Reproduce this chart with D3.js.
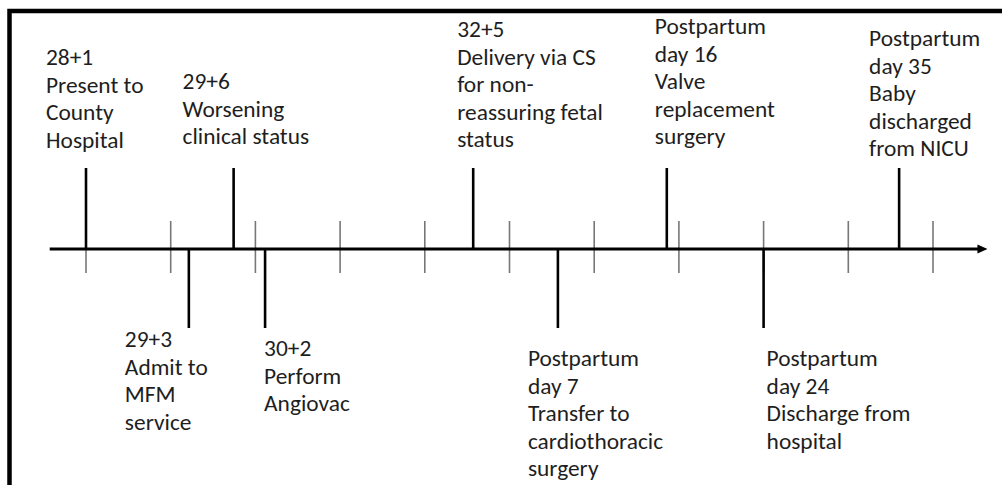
<!DOCTYPE html>
<html><head><meta charset="utf-8">
<script src="https://cdn.jsdelivr.net/npm/d3@7/dist/d3.min.js"></script>
<style>
html,body{margin:0;padding:0;background:#fff;}
svg{display:block;}
text{font-family:Calibri,Carlito,Lato,"Open Sans",sans-serif;font-size:23.4px;fill:#1e1e1e;}
</style></head>
<body>
<svg id="chart" width="1002" height="485"></svg>
<script>
// ---- data ----
const tickDays = [0, 7, 14, 21, 28, 35, 42, 49, 56, 63, 70];
const eventDays = [0, 8.5, 12.2, 14.8, 32, 39, 48, 56, 67.2];
const eventSides = ["up", "down", "up", "down", "up", "down", "up", "down", "up"];
const eventLabels = [
  ["28+1", "Present to", "County", "Hospital"],
  ["29+3", "Admit to", "MFM", "service"],
  ["29+6", "Worsening", "clinical status"],
  ["30+2", "Perform", "Angiovac"],
  ["32+5", "Delivery via CS", "for non-", "reassuring fetal", "status"],
  ["Postpartum", "day 7", "Transfer to", "cardiothoracic", "surgery"],
  ["Postpartum", "day 16", "Valve", "replacement", "surgery"],
  ["Postpartum", "day 24", "Discharge from", "hospital"],
  ["Postpartum", "day 35", "Baby", "discharged", "from NICU"]
];
// label placement (layout): x offset from stem, first baseline
const labelDx = [-40, -64, -51, -1, -16, -30, -12, 3, -30];
const labelY0 = [65, 347, 89, 356, 37, 366, 34, 366, 46];

// ---- drawing ----
const svg = d3.select("#chart");
const x = d3.scaleLinear().domain([0, 70]).range([86, 933]);
const axisY = 249;
const lineH = 27.6;

// frame (cropped on right/bottom)
svg.append("path")
  .attr("d", "M9.5,500 L9.5,11 L1010,11")
  .attr("fill", "none").attr("stroke", "#000").attr("stroke-width", 4.5);

// minor ticks
svg.append("g").selectAll("line").data(tickDays).join("line")
  .attr("x1", d => x(d)).attr("x2", d => x(d))
  .attr("y1", (d, i) => i === 0 ? axisY : axisY - 28)
  .attr("y2", axisY + 24)
  .attr("stroke", "#777").attr("stroke-width", 1.6);

// main axis with arrow
const xStart = x(-3), xEnd = x(74.5);
svg.append("line")
  .attr("x1", xStart).attr("x2", xEnd - 8)
  .attr("y1", axisY).attr("y2", axisY)
  .attr("stroke", "#000").attr("stroke-width", 2.8);
svg.append("path")
  .attr("d", `M${xEnd},${axisY} L${xEnd - 10},${axisY - 4.5} L${xEnd - 10},${axisY + 4.5} Z`)
  .attr("fill", "#000");

// event stems
const events = eventDays.map((d, i) => ({day: d, side: eventSides[i], lines: eventLabels[i], dx: labelDx[i], y0: labelY0[i]}));
svg.append("g").selectAll("line").data(events).join("line")
  .attr("x1", d => x(d.day)).attr("x2", d => x(d.day))
  .attr("y1", axisY)
  .attr("y2", d => d.side === "up" ? axisY - 81 : axisY + 79)
  .attr("stroke", "#000").attr("stroke-width", 2.6);

// labels
const lab = svg.append("g").selectAll("text").data(events).join("text")
  .attr("x", d => x(d.day) + d.dx)
  .attr("y", d => d.y0);
lab.selectAll("tspan").data(d => d.lines.map(l => ({l, x: x(d.day) + d.dx}))).join("tspan")
  .attr("x", t => t.x)
  .attr("dy", (t, i) => i === 0 ? 0 : lineH)
  .text(t => t.l);
</script>
</body></html>
